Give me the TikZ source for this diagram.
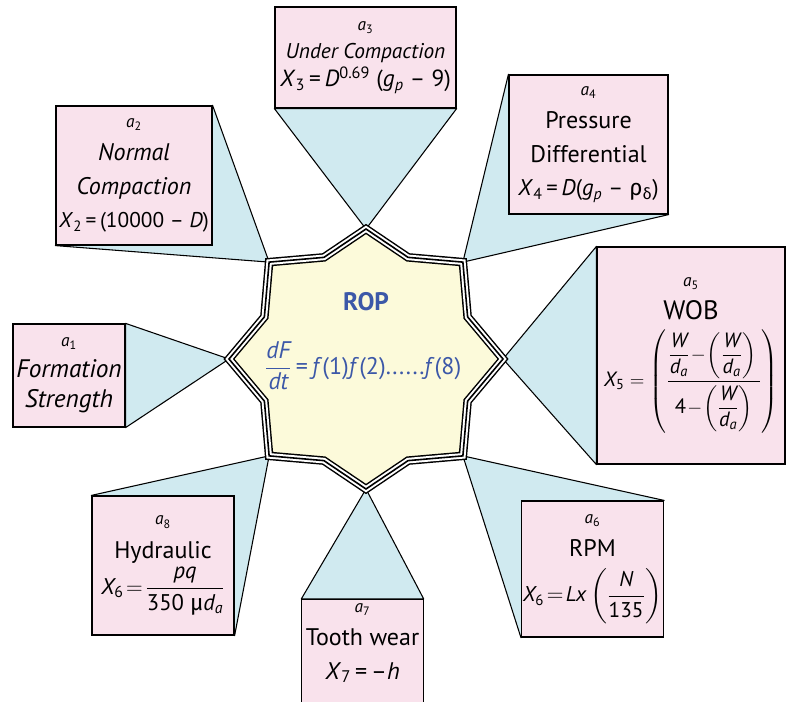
\documentclass[tikz,border=0pt]{standalone}
\usepackage{amsmath}
\usepackage{fontspec}
\setmainfont{PT Sans}
\newfontfamily\grk{Fira Sans}
\usetikzlibrary{positioning, calc}
\pgfdeclarelayer{bg}
\pgfsetlayers{bg,main}

\definecolor{boxpink}{RGB}{249,226,236}
\definecolor{wedgeblue}{RGB}{208,234,240}
\definecolor{starfill}{RGB}{252,250,218}
\definecolor{ropblue}{RGB}{60,88,168}

\newcommand{\vv}[1]{\mbox{\itshape #1}}
\newcommand{\xs}[2]{\mbox{\itshape #1\textsubscript{\upshape #2}}}
\newcommand{\al}[1]{{\fontsize{13}{15}\selectfont\textit{a}\textsubscript{#1}}}
\newcommand{\fs}[1]{\fontsize{#1}{25}\selectfont}
\newcommand{\wda}{\dfrac{\vv{W}}{\xs{d}{\itshape a}}}

\begin{document}
\begin{tikzpicture}[x=0.75pt, y=-0.75pt,
    factor/.style={draw=black, line width=0.9pt, fill=boxpink, align=center,
      inner sep=1pt, font=\fontsize{18}{25}\selectfont},
    wedge/.style={draw=black, line width=0.8pt, fill=wedgeblue, line join=round}]

\useasboundingbox (0,0) rectangle (792,702);

% star points
\coordinate (c) at (366,359);
\foreach \a/\n/\r in {-90/N/130,-45/NE/137,0/E/137,45/SE/137,90/S/130,135/SW/137,180/W/137,225/NW/137}{
  \coordinate (p\n) at ([shift={(\a:\r)}]c);
  \coordinate (q\n) at ([shift={(\a+22.5:110)}]c);
}

% factor boxes
\node[factor, minimum width=84pt, minimum height=77.25pt, font=\fontsize{19}{23}\selectfont] (a1) at (69,375.5)
  {\al{1}\\ \textit{Formation}\\ \textit{Strength}};
\node[factor, minimum width=117pt, minimum height=104.25pt] (a2) at (134,175.5)
  {\al{2}\\ \textit{Normal}\\ \textit{Compaction}\\
   {\fs{16}\textit{X}\textsubscript{2}\,=\,(10000 -- \textit{D})}};
\node[factor, minimum width=135.75pt, minimum height=75.75pt, font=\fontsize{16}{21}\selectfont] (a3) at (365.5,57.5)
  {\al{3}\\ \textit{Under Compaction}\\
   {\fontsize{17.5}{21}\selectfont\textit{X}\textsubscript{3}\,=\,\textit{D}\textsuperscript{0.69} (\textit{g}\textsubscript{\textit{p}} -- 9)}};
\node[factor, minimum width=119.25pt, minimum height=104.25pt] (a4) at (588.5,144.5)
  {\al{4}\\ Pressure\\ Differential\\
   {\fs{17}\textit{X}\textsubscript{4}\,=\,\textit{D}(\textit{g}\textsubscript{\textit{p}} -- {\grk ρ}\textsubscript{\grk δ})}};
\node[factor, minimum width=141pt, minimum height=162.75pt] (a5) at (691,355.5)
  {\al{5}\\ {\fs{20}WOB}\\[6pt]
   {\fs{15.5}$\xs{X}{5} = \left(\dfrac{\wda\!-\!\left(\wda\right)\rule[-9pt]{0pt}{9pt}}{\rule{0pt}{22pt}\mbox{4}\!-\!\left(\wda\right)}\right)$}};
\node[factor, minimum width=105.75pt, minimum height=102pt] (a6) at (592.5,569)
  {\al{6}\\ RPM\\[8pt]
   {\fs{16}$\xs{X}{6}\!=\!\vv{Lx}\left(\dfrac{\vv{N}}{\mbox{135}}\right)$}};
\node[factor, minimum width=87.75pt, anchor=north, inner sep=3pt] (a7) at (362.5,599)
  {\al{7}\\ Tooth wear\\ \textit{X}\textsubscript{7}\,=\,--\textit{h}\\ \mbox{}};
\node[factor, minimum width=106.5pt, minimum height=104.25pt] (a8) at (163,565.5)
  {\al{8}\\ Hydraulic\\[2pt]
   {\fs{17}$\xs{X}{6}\!=\!\dfrac{\vv{pq}}{\mbox{350 {\grk μ}\itshape d\textsubscript{a}}}$}};

% wedges to the star
\begin{pgfonlayer}{bg}
  \draw[wedge] (pW) -- (a1.north east) -- (a1.south east) -- cycle;
  \draw[wedge] (pNW) -- (a2.north east) -- (a2.south west) -- cycle;
  \draw[wedge] (pN) -- (a3.south west) -- (a3.south east) -- cycle;
  \draw[wedge] (pNE) -- (a4.north west) -- (a4.south east) -- cycle;
  \draw[wedge] (pE) -- (a5.north west) -- (a5.south west) -- cycle;
  \draw[wedge] (pSE) -- (a6.north east) -- (a6.south west) -- cycle;
  \draw[wedge] (pS) -- (a7.north west) -- (a7.north east) -- cycle;
  \draw[wedge] (pSW) -- (a8.north west) -- (a8.south east) -- cycle;
\end{pgfonlayer}

% ROP star
\path[fill=starfill, draw=black, line width=6.4pt,
      postaction={draw=white, line width=4.2pt},
      postaction={draw=black, line width=1.2pt}]
  (pN) -- (qN) -- (pNE) -- (qNE) -- (pE) -- (qE) -- (pSE) -- (qSE) --
  (pS) -- (qS) -- (pSW) -- (qSW) -- (pW) -- (qW) -- (pNW) -- (qNW) -- cycle;

\node[text=ropblue, font=\fontsize{19}{22}\selectfont\bfseries] (rop) at (366,302) {ROP};
\node[text=ropblue, font=\fontsize{18}{22}\selectfont] (eq) at (363,366)
  {$\dfrac{\vv{dF}}{\vv{dt}}$\,=\,\textit{f}(1)\textit{f}(2)......\textit{f}(8)};
\end{tikzpicture}
\end{document}
